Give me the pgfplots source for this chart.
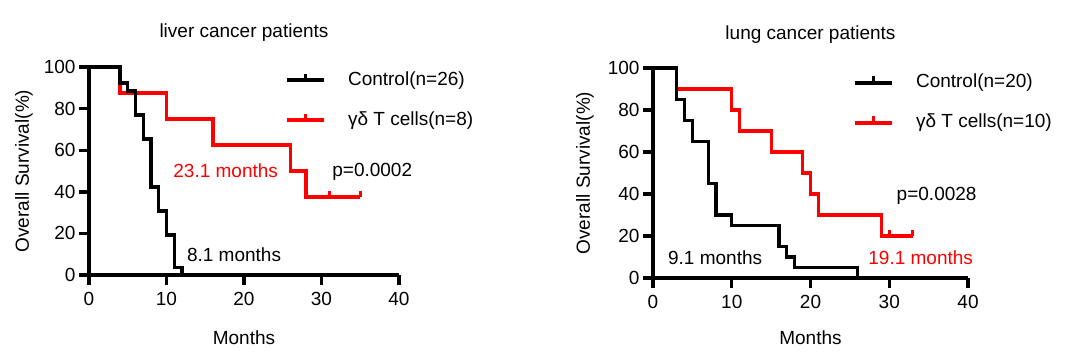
\documentclass[border=0pt]{standalone}
\usepackage{fontspec}
\setmainfont{Liberation Sans}
\usepackage{pgfplots}
\pgfplotsset{compat=1.18}
\newcommand\fs{\fontsize{9.5}{11}\selectfont}
\pgfdeclareplotmark{cens}{\pgfpathmoveto{\pgfqpoint{0pt}{0pt}}\pgfpathlineto{\pgfqpoint{0pt}{3.2pt}}\pgfusepathqstroke}
\pgfplotsset{kmstyle/.style={
  scale only axis, xmin=0, xmax=40, ymin=0, ymax=100,
  axis x line=bottom, axis y line=left,
  axis line style={-, line width=1.7pt},
  xtick={0,10,20,30,40}, ytick={0,20,40,60,80,100},
  tick align=outside, major tick length=5pt,
  tick style={line width=1.7pt, black},
  /pgf/number format/assume math mode=true,
  tick label style={font=\fs},
  yticklabel style={xshift=1.8pt},
  label style={font=\fs},
  title style={font=\fs},
  clip=false,
  legend cell align=left,
  reverse legend,
  legend style={draw=none, fill=none, font=\fs, anchor=west, row sep=11pt, column sep=11pt,
    nodes={inner sep=0pt, text height=7pt, text depth=2pt}},
  legend image code/.code={\draw[##1, mark=none, line width=1.8pt] (0pt,0pt) -- (18.5pt,0pt);
     \draw[##1, mark=none, line width=1.5pt] (9.25pt,0pt) -- (9.25pt,3.2pt);},
  km/.style={const plot, line width=1.6pt, line join=miter, line cap=butt, mark=none},
  cm/.style={only marks, mark=cens, mark options={line width=1.5pt, solid}, forget plot},
}}
\begin{document}
\begin{tikzpicture}
\useasboundingbox (0,0) rectangle (540pt,180pt);
\begin{axis}[kmstyle, at={(44.5pt,42.5pt)}, anchor=south west, width=155pt, height=104pt,
  title={liver cancer patients},
  title style={at={(axis description cs:0.5,1.11)}, anchor=center},
  xlabel={Months}, xlabel style={at={(axis description cs:0.5,-0.303)}, anchor=center},
  ylabel={Overall Survival(\%)}, ylabel style={at={(axis description cs:-0.21,0.5)}, anchor=center},
  legend style={at={(axis description cs:0.613,0.841)}}]
\addplot[km, red] coordinates {(0,100) (4,87.5) (10,75) (16,62.5) (26,50) (28,37.5) (35,37.5)};
\addlegendentry{γδ T cells(n=8)}
\addplot[cm, red] coordinates {(31,37.5) (35,37.5)};
\addplot[km, black] coordinates {(0,100) (4,92.3) (5,88.5) (6,76.9) (7,65.4) (8,42.3) (9,30.8) (10,19.2) (11,3.8) (12,0)};
\addlegendentry{Control(n=26)}
\node[anchor=base west, text=red, font=\fs, inner sep=0pt] at (axis cs:10.84,46.8) {23.1 months};
\node[anchor=base west, font=\fs, inner sep=0pt] at (axis cs:31.35,47.3) {p=0.0002};
\node[anchor=base west, font=\fs, inner sep=0pt] at (axis cs:12.6,6.4) {8.1 months};
\end{axis}
\begin{axis}[kmstyle, at={(326.5pt,41pt)}, anchor=south west, width=157.5pt, height=105pt,
  title={lung cancer patients},
  title style={at={(axis description cs:0.5,1.104)}, anchor=center},
  xlabel={Months}, xlabel style={at={(axis description cs:0.5,-0.286)}, anchor=center},
  ylabel={Overall Survival(\%)}, ylabel style={at={(axis description cs:-0.216,0.5)}, anchor=center},
  legend style={at={(axis description cs:0.616,0.834)}}]
\addplot[km, red] coordinates {(0,100) (3,90) (10,80) (11,70) (15,60) (19,50) (20,40) (21,30) (29,20) (33,20)};
\addlegendentry{γδ T cells(n=10)}
\addplot[cm, red] coordinates {(30,20) (33,20)};
\addplot[km, black] coordinates {(0,100) (3,85) (4,75) (5,65) (7,45) (8,30) (10,25) (16,15) (17,10) (18,5) (26,0)};
\addlegendentry{Control(n=20)}
\node[anchor=base west, font=\fs, inner sep=0pt] at (axis cs:30.9,37.1) {p=0.0028};
\node[anchor=base west, font=\fs, inner sep=0pt] at (axis cs:1.87,6.2) {9.1 months};
\node[anchor=base west, text=red, font=\fs, inner sep=0pt] at (axis cs:27.3,6.2) {19.1 months};
\end{axis}
\end{tikzpicture}
\end{document}
